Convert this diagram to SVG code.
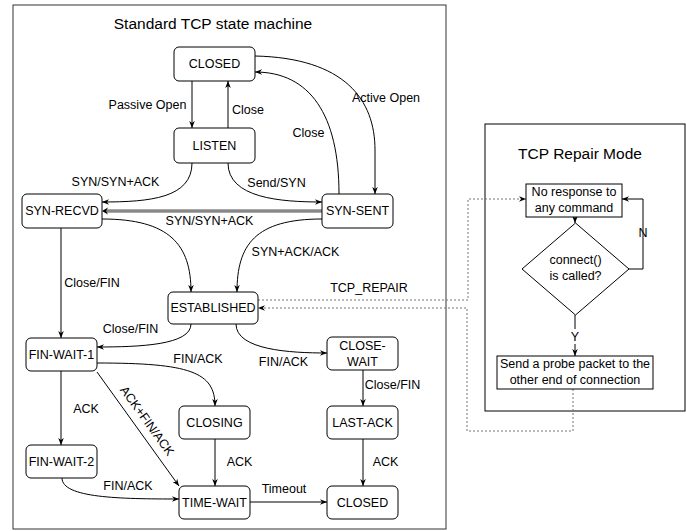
<svg xmlns="http://www.w3.org/2000/svg" width="686" height="531" viewBox="0 0 686 531">
<style>
text{font-family:"Liberation Sans",Arial,Helvetica,sans-serif;font-size:12.5px;fill:#000;text-anchor:middle;dominant-baseline:central}
.title{font-size:15.5px}
.node rect{fill:#fff;stroke:#000;stroke-width:1}
.node polygon{fill:#fff;stroke:#000;stroke-width:1}
.frame{fill:#fff;stroke:#333;stroke-width:1}
.c{fill:none;stroke:#000;stroke-width:1;marker-end:url(#ah)}
.d{fill:none;stroke:#777;stroke-width:1;stroke-dasharray:2,2;marker-end:url(#ah)}
.lbl{fill:#fff;stroke:none}
</style>
<defs>
<marker id="ah" viewBox="0 0 10 10" refX="10" refY="5" markerWidth="7" markerHeight="7" markerUnits="userSpaceOnUse" orient="auto">
<path d="M0,1 L10,5 L0,9 L3,5 z" fill="#000"/>
</marker>
</defs>
<rect width="686" height="531" fill="#fff"/>
<rect class="frame" x="13" y="5" width="433" height="524"/>
<text class="title" x="213" y="23">Standard TCP state machine</text>
<rect class="frame" x="485" y="124" width="200" height="287" style="stroke:#000"/>
<text class="title" x="580" y="153">TCP Repair Mode</text>

<g id="connectors">
<path class="c" d="M192,81 L192,128"/>
<path class="c" d="M228,128 L228,81"/>
<path class="c" d="M339,194 C339,115 310,72 255,72"/>
<path class="c" d="M255,56 C345,58 375,100 375,150 L375,194"/>
<path class="c" d="M192,163 C192,198 150,202 102,202"/>
<path class="c" d="M228,163 C228,198 280,202 322,202"/>
<path d="M322,211 L106,211" fill="none" stroke="#555" stroke-width="3"/>
<path d="M322,211 L106,211" fill="none" stroke="#bbb" stroke-width="1"/>
<path d="M108,207.5 L102,211 L108,214.5 L106,211 z" fill="#000"/>
<path class="c" d="M102,219 C170,219 191,245 191,292"/>
<path class="c" d="M322,219 C255,219 237,245 237,292"/>
<path class="c" d="M61,228 L61,338"/>
<path class="c" d="M191,324 C191,345 140,347 97,347"/>
<path class="c" d="M236,324 C236,350 290,353 327,353"/>
<path class="c" d="M363,370 L363,406"/>
<path class="c" d="M363,439 L363,486"/>
<path class="c" d="M97,363 C190,363 215,372 215,406"/>
<path class="c" d="M61,371 L61,445"/>
<path class="c" d="M97,372 L179,486"/>
<path class="c" d="M215,439 L215,486"/>
<path class="c" d="M62,478 C62,498 120,499 179,499"/>
<path class="c" d="M250,502 L327,502"/>
<path class="d" d="M258,300 L468,300 L468,199 L526,199"/>
<path class="d" d="M573,389 L573,431 L467,431 L467,308 L258,308"/>
<path class="c" d="M575,217 L575,223"/>
<path class="c" d="M575,315 L575,356"/>
<path class="c" d="M629,269 L643,269 L643,199 L622,199"/>
</g>

<g id="edge-labels">
<text x="147.5" y="105">Passive Open</text>
<text x="248" y="110">Close</text>
<text x="308.5" y="133">Close</text>
<text x="386" y="98">Active Open</text>
<text x="115.5" y="182">SYN/SYN+ACK</text>
<text x="276.5" y="183">Send/SYN</text>
<text x="209.5" y="221">SYN/SYN+ACK</text>
<text x="295.5" y="252">SYN+ACK/ACK</text>
<text x="92" y="283">Close/FIN</text>
<text x="369" y="288">TCP_REPAIR</text>
<text x="130.5" y="329">Close/FIN</text>
<text x="283.5" y="362">FIN/ACK</text>
<text x="198" y="359">FIN/ACK</text>
<text x="392.5" y="385">Close/FIN</text>
<text x="86" y="409">ACK</text>
<text transform="translate(147,421) rotate(54)">ACK+FIN/ACK</text>
<text x="239.5" y="462">ACK</text>
<text x="385.5" y="462">ACK</text>
<text x="128" y="486">FIN/ACK</text>
<text x="284" y="489">Timeout</text>
<rect class="lbl" x="569" y="329" width="12" height="15"/>
<text x="575" y="337">Y</text>
<text x="643" y="233">N</text>
</g>

<g id="closed-top" class="node"><rect x="174" y="47" width="81" height="34" rx="5"/><text x="214.5" y="64">CLOSED</text></g>
<g id="listen" class="node"><rect x="174" y="128" width="81" height="35" rx="5"/><text x="214.5" y="145.5">LISTEN</text></g>
<g id="syn-recvd" class="node"><rect x="22" y="194" width="80" height="34" rx="5"/><text x="62" y="211">SYN-RECVD</text></g>
<g id="syn-sent" class="node"><rect x="322" y="194" width="71" height="34" rx="5"/><text x="357.5" y="211">SYN-SENT</text></g>
<g id="established" class="node"><rect x="168" y="292" width="90" height="32" rx="5"/><text x="213" y="308">ESTABLISHED</text></g>
<g id="fin-wait-1" class="node"><rect x="26" y="338" width="71" height="33" rx="5"/><text x="61.5" y="354.5">FIN-WAIT-1</text></g>
<g id="close-wait" class="node"><rect x="327" y="337" width="71" height="33" rx="5"/><text x="362.5" y="345.5">CLOSE-</text><text x="362.5" y="361.5">WAIT</text></g>
<g id="closing" class="node"><rect x="179" y="406" width="71" height="33" rx="5"/><text x="214.5" y="422.5">CLOSING</text></g>
<g id="last-ack" class="node"><rect x="327" y="406" width="71" height="33" rx="5"/><text x="362.5" y="422.5">LAST-ACK</text></g>
<g id="fin-wait-2" class="node"><rect x="26" y="445" width="71" height="33" rx="5"/><text x="61.5" y="461.5">FIN-WAIT-2</text></g>
<g id="time-wait" class="node"><rect x="179" y="486" width="71" height="33" rx="5"/><text x="214.5" y="502.5">TIME-WAIT</text></g>
<g id="closed-bottom" class="node"><rect x="327" y="486" width="71" height="33" rx="5"/><text x="362.5" y="502.5">CLOSED</text></g>

<g id="no-response" class="node"><rect x="526" y="184" width="96" height="33"/><text x="574" y="191.5">No response to</text><text x="574" y="207.5">any command</text></g>
<g id="connect-check" class="node"><polygon points="575.5,223 629,269 575.5,315 522,269"/><text x="575.5" y="260">connect()</text><text x="575.5" y="276">is called?</text></g>
<g id="send-probe" class="node"><rect x="497" y="356" width="156" height="33"/><text x="575" y="364">Send a probe packet to the</text><text x="575" y="380">other end of connection</text></g>
</svg>
